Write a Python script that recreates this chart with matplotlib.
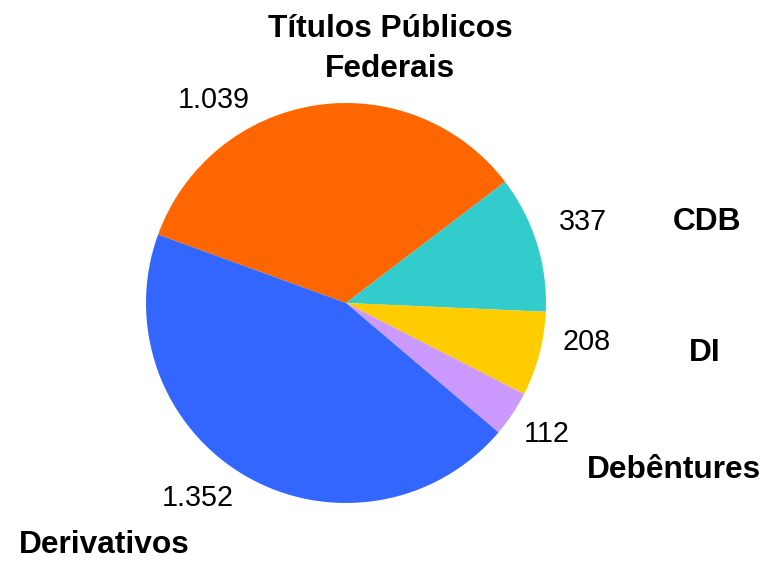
import matplotlib
matplotlib.use("Agg")
import matplotlib.pyplot as plt

matplotlib.rcParams["font.family"] = ["Liberation Sans", "DejaVu Sans"]

# dados (R$ bilhões)
categorias = ["Títulos Públicos\nFederais", "CDB", "DI", "Debêntures", "Derivativos"]
valores = [1039, 337, 208, 112, 1352]
rotulos_valor = ["1.039", "337", "208", "112", "1.352"]
cores = ["#FF6600", "#33CCCC", "#FFCC00", "#CC99FF", "#3366FF"]

# posições dos rótulos em pixels (x, y a partir do topo)
pos_valor = [(214, 100), (583, 222), (587, 342), (547, 434), (198, 498)]
pos_categoria = [(390, 49), (707, 222), (705, 353), (674, 470), (104, 545)]

W, H = 769, 561
fig = plt.figure(figsize=(W / 100, H / 100), dpi=100)
ax = fig.add_axes([146 / W, 58 / H, 400 / W, 400 / H])
ax.pie(valores, colors=cores, startangle=160, counterclock=False,
       wedgeprops=dict(linewidth=0))
ax.set_xlim(-1, 1)
ax.set_ylim(-1, 1)
ax.axis("off")

for txt, (x, y) in zip(rotulos_valor, pos_valor):
    fig.text(x / W, 1 - y / H, txt, ha="center", va="center", fontsize=20.7)

for txt, (x, y) in zip(categorias, pos_categoria):
    fig.text(x / W, 1 - y / H, txt, ha="center", va="center", fontsize=22.8,
             fontweight="bold", linespacing=1.4)

fig.savefig("out.png", dpi=100)
